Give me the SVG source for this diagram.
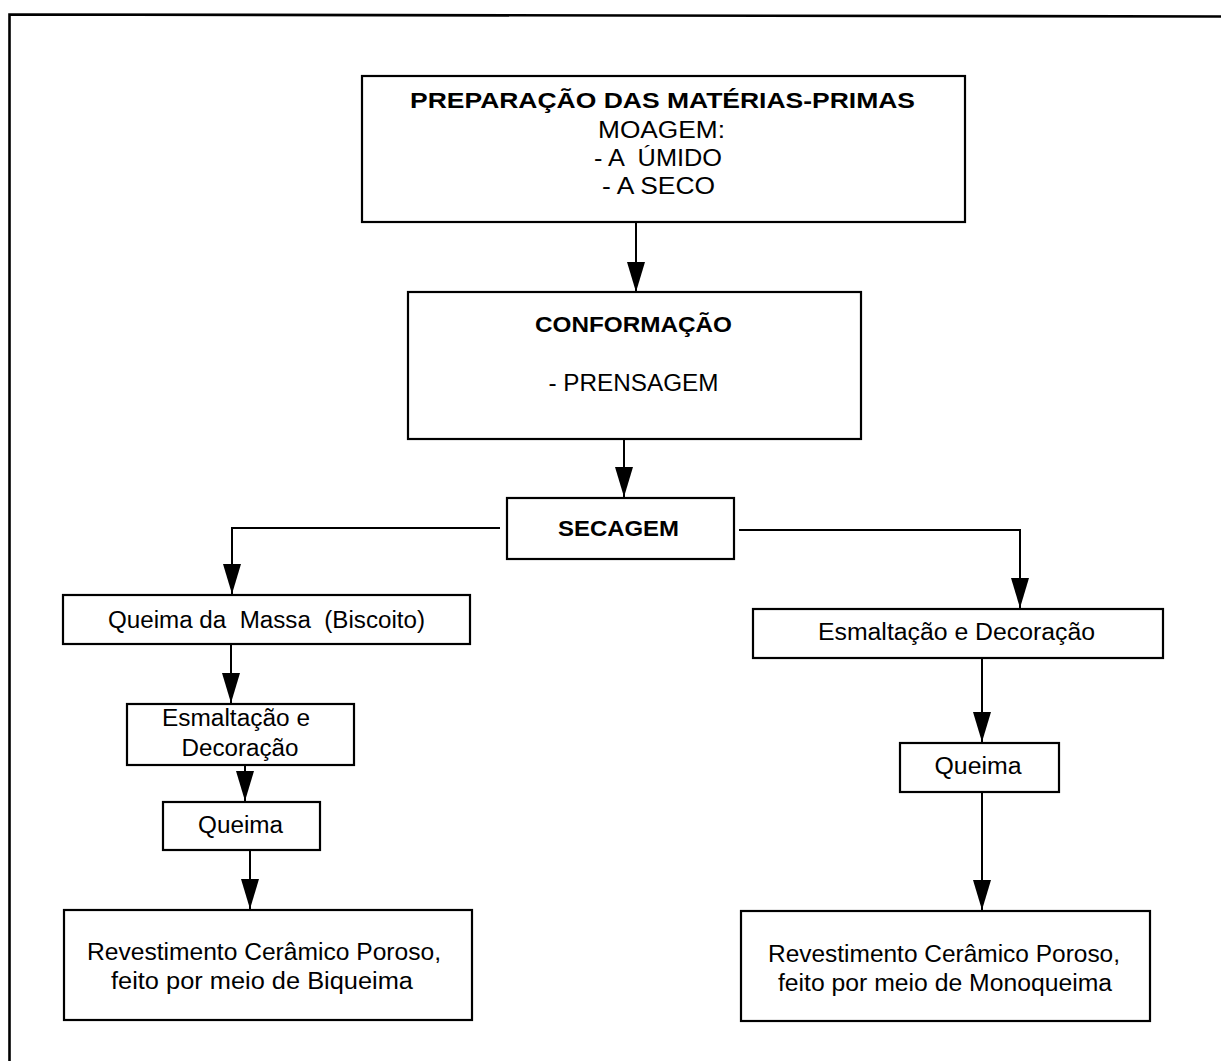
<svg xmlns="http://www.w3.org/2000/svg" width="1221" height="1061" viewBox="0 0 1221 1061">
<style>
  .box { fill: #fff; stroke: #000; stroke-width: 2.2; }
  .t { font-family: "Liberation Sans", Arial, sans-serif; font-size: 23px; fill: #000; text-anchor: middle; }
  .b { font-weight: bold; font-size: 21.5px; }
  .c { fill: none; stroke: #000; stroke-width: 2; }
  .frame { fill: none; stroke: #000; stroke-width: 2.6; }
</style>
<defs>
  <marker id="ah" markerUnits="userSpaceOnUse" viewBox="0 0 30 18" markerWidth="30" markerHeight="18" refX="30" refY="9" orient="auto">
    <path d="M0,0 L30,9 L0,18 Z" fill="#000"/>
  </marker>
</defs>
<rect width="1221" height="1061" fill="#fff"/>
<g id="frame">
  <path class="frame" d="M9.5,1061 V14.5 L1221,16.5"/>
</g>
<g id="connectors">
  <path class="c" d="M636,222 V292" marker-end="url(#ah)"/>
  <path class="c" d="M624,439 V497" marker-end="url(#ah)"/>
  <path class="c" d="M500,528 H232 V594" marker-end="url(#ah)"/>
  <path class="c" d="M739,530 H1020 V608" marker-end="url(#ah)"/>
  <path class="c" d="M231,644 V703" marker-end="url(#ah)"/>
  <path class="c" d="M245,765 V801" marker-end="url(#ah)"/>
  <path class="c" d="M250,850 V909" marker-end="url(#ah)"/>
  <path class="c" d="M982,658 V742" marker-end="url(#ah)"/>
  <path class="c" d="M982,792 V910" marker-end="url(#ah)"/>
</g>
<g id="preparacao">
  <rect class="box" x="362" y="76" width="603" height="146"/>
  <text class="t b" x="662.5" y="108" textLength="505" lengthAdjust="spacingAndGlyphs">PREPARAÇÃO DAS MATÉRIAS-PRIMAS</text>
  <text class="t" x="661.5" y="138" textLength="127" lengthAdjust="spacingAndGlyphs">MOAGEM:</text>
  <text class="t" x="658" y="166" textLength="128" lengthAdjust="spacingAndGlyphs" xml:space="preserve">- A  ÚMIDO</text>
  <text class="t" x="658.5" y="194" textLength="113" lengthAdjust="spacingAndGlyphs">- A SECO</text>
</g>
<g id="conformacao">
  <rect class="box" x="408" y="292" width="453" height="147"/>
  <text class="t b" x="633.5" y="332" textLength="197" lengthAdjust="spacingAndGlyphs">CONFORMAÇÃO</text>
  <text class="t" x="633.5" y="391" textLength="170" lengthAdjust="spacingAndGlyphs">- PRENSAGEM</text>
</g>
<g id="secagem">
  <rect class="box" x="507" y="498" width="227" height="61"/>
  <text class="t b" x="618.5" y="536" textLength="121" lengthAdjust="spacingAndGlyphs">SECAGEM</text>
</g>
<g id="queima-massa">
  <rect class="box" x="63" y="595" width="407" height="49"/>
  <text class="t" x="266.5" y="628" textLength="317" lengthAdjust="spacingAndGlyphs" xml:space="preserve">Queima da  Massa  (Biscoito)</text>
</g>
<g id="esmaltacao-esq">
  <rect class="box" x="127" y="704" width="227" height="61"/>
  <text class="t" x="236" y="726" textLength="148" lengthAdjust="spacingAndGlyphs">Esmaltação e</text>
  <text class="t" x="240" y="756" textLength="117" lengthAdjust="spacingAndGlyphs">Decoração</text>
</g>
<g id="queima-esq">
  <rect class="box" x="163" y="802" width="157" height="48"/>
  <text class="t" x="240.5" y="833" textLength="85" lengthAdjust="spacingAndGlyphs">Queima</text>
</g>
<g id="revestimento-biqueima">
  <rect class="box" x="64" y="910" width="408" height="110"/>
  <text class="t" x="264" y="960" textLength="354" lengthAdjust="spacingAndGlyphs">Revestimento Cerâmico Poroso,</text>
  <text class="t" x="262" y="989" textLength="302" lengthAdjust="spacingAndGlyphs">feito por meio de Biqueima</text>
</g>
<g id="esmaltacao-dir">
  <rect class="box" x="753" y="609" width="410" height="49"/>
  <text class="t" x="956.5" y="640" textLength="277" lengthAdjust="spacingAndGlyphs">Esmaltação e Decoração</text>
</g>
<g id="queima-dir">
  <rect class="box" x="900" y="743" width="159" height="49"/>
  <text class="t" x="978" y="774" textLength="87" lengthAdjust="spacingAndGlyphs">Queima</text>
</g>
<g id="revestimento-monoqueima">
  <rect class="box" x="741" y="911" width="409" height="110"/>
  <text class="t" x="944" y="962" textLength="352" lengthAdjust="spacingAndGlyphs">Revestimento Cerâmico Poroso,</text>
  <text class="t" x="945" y="991" textLength="334" lengthAdjust="spacingAndGlyphs">feito por meio de Monoqueima</text>
</g>
</svg>
